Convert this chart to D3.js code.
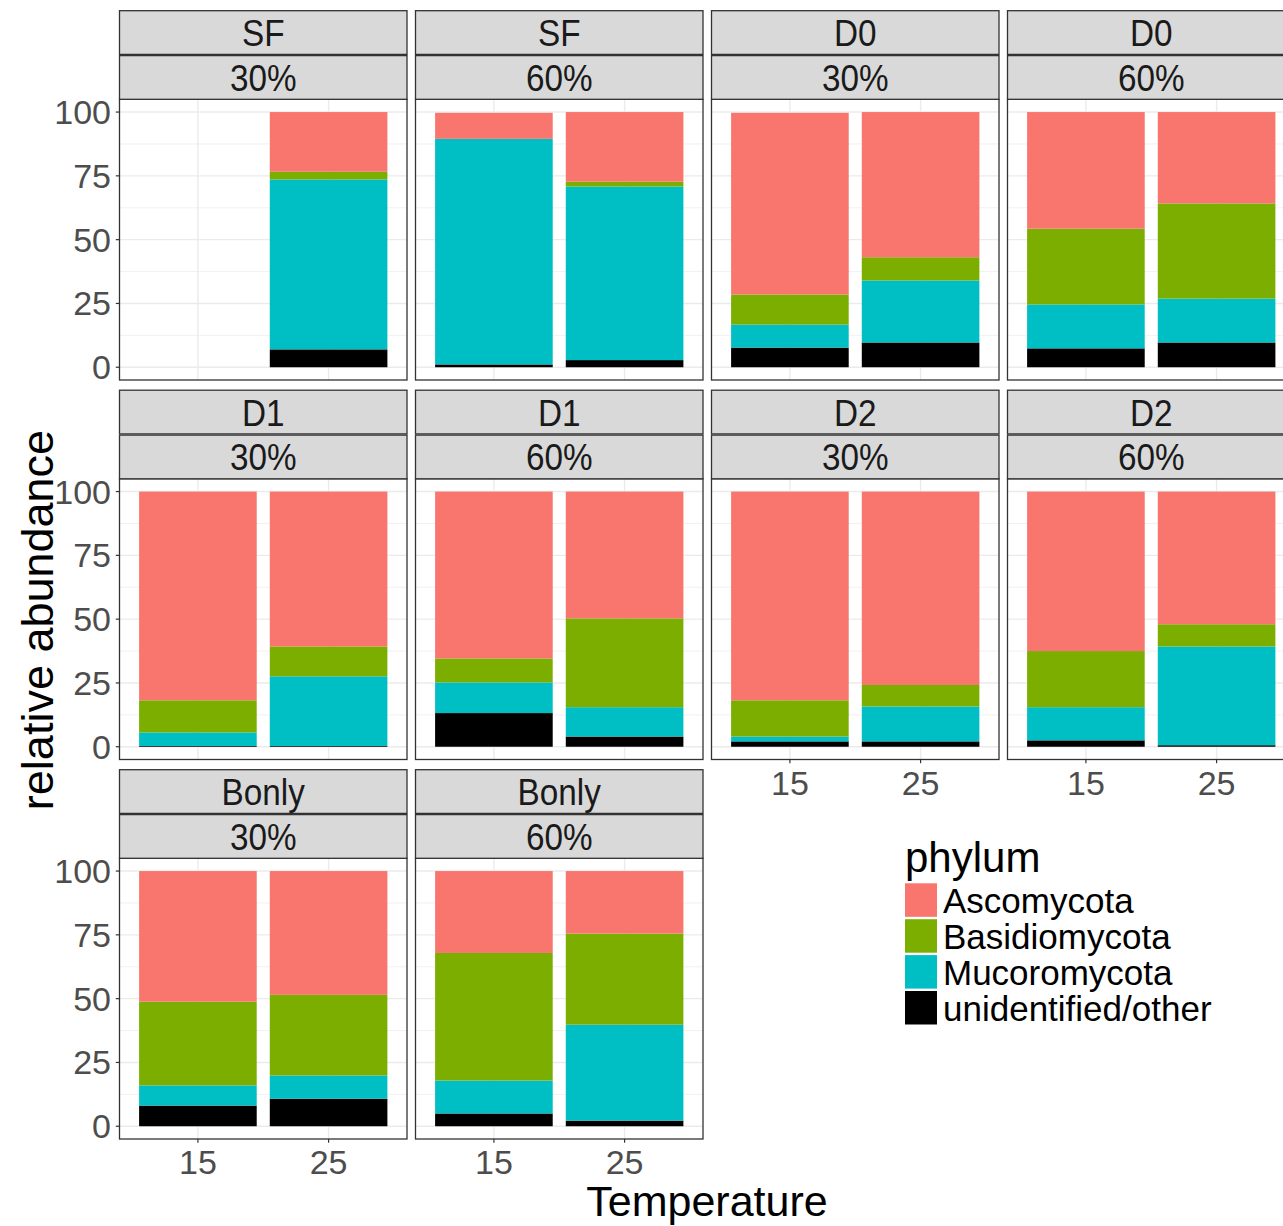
<!DOCTYPE html>
<html>
<head>
<meta charset="utf-8">
<script src="https://cdn.jsdelivr.net/npm/d3@7"></script>
<style>
  html, body { margin: 0; padding: 0; background: #fff; overflow: hidden; }
  svg { display: block; font-family: "Liberation Sans", Arial, Helvetica, sans-serif; }
</style>
</head>
<body>
<svg id="chart" width="1283" height="1226"></svg>
<script>
// Facet panels (treatment x moisture), in wrap order
const treatments = ["SF", "SF", "D0", "D0", "D1", "D1", "D2", "D2", "Bonly", "Bonly"];
const moistures  = ["30%", "60%", "30%", "60%", "30%", "60%", "30%", "60%", "30%", "60%"];
const temperatures = ["15", "25"];
const phyla = ["Ascomycota", "Basidiomycota", "Mucoromycota", "unidentified/other"];
const phylumColors = ["#F8766D", "#7CAE00", "#00BFC4", "#000000"];
const yTicks = [0, 25, 50, 75, 100];
const yMinor = [12.5, 37.5, 62.5, 87.5];

// Relative abundance (%) per panel, [15 °C, 25 °C]; null = no sample
const ascomycota = [
  [null, 23.4], [10.2, 27.3], [71.2, 56.9], [45.7, 35.8], [81.8, 60.7],
  [65.4, 49.7], [81.8, 75.8], [62.5, 52.0], [51.2, 48.5], [32.1, 24.5]
];
const basidiomycota = [
  [null, 3.0], [0.0, 1.9], [11.8, 9.1], [29.7, 37.3], [12.6, 11.7],
  [9.4, 34.8], [14.2, 8.4], [22.0, 8.7], [32.8, 31.6], [50.0, 35.7]
];
const mucoromycota = [
  [null, 66.6], [88.4, 68.0], [9.0, 24.3], [17.2, 17.2], [5.3, 27.3],
  [12.0, 11.5], [1.9, 13.7], [13.0, 38.7], [7.9, 9.1], [12.9, 37.6]
];
const unidentified = [
  [null, 7.0], [1.1, 2.8], [7.7, 9.7], [7.4, 9.7], [0.3, 0.3],
  [13.2, 4.0], [2.1, 2.1], [2.5, 0.6], [8.1, 10.8], [5.0, 2.2]
];
const seriesByPhylum = [ascomycota, basidiomycota, mucoromycota, unidentified];

// ---- layout ----
const svg = d3.select("#chart");
const ncol = 4;
const colLeft0 = 119.5, colPitch = 296, panelW = 287.5;
const rowTop0 = 10.7, rowPitch = 379.5;
const stripH = 44.3, panelH = 280.7;

const color = d3.scaleOrdinal().domain(phyla).range(phylumColors);

// stacking: unidentified at the bottom, Ascomycota on top
const stackKeys = phyla.slice().reverse();
const stack = d3.stack().keys(stackKeys);

const nPanels = treatments.length;
const nRows = Math.ceil(nPanels / ncol);

for (let p = 0; p < nPanels; p++) {
  const r = Math.floor(p / ncol), c = p % ncol;
  const left = colLeft0 + c * colPitch;
  const top = rowTop0 + r * rowPitch;
  const pTop = top + 2 * stripH;
  const pBottom = pTop + panelH;

  const x = d3.scaleBand().domain(temperatures).range([left, left + panelW])
    .paddingInner(0.1).paddingOuter(0.15);
  const y = d3.scaleLinear().domain([-5, 105]).range([pBottom, pTop]);

  const g = svg.append("g");

  // panel background + grid
  g.append("rect").attr("x", left).attr("y", pTop).attr("width", panelW).attr("height", panelH)
    .attr("fill", "#fff");
  g.selectAll(".minor").data(yMinor).join("line")
    .attr("x1", left).attr("x2", left + panelW)
    .attr("y1", d => y(d)).attr("y2", d => y(d))
    .attr("stroke", "#ebebeb").attr("stroke-width", 0.7);
  g.selectAll(".major").data(yTicks).join("line")
    .attr("x1", left).attr("x2", left + panelW)
    .attr("y1", d => y(d)).attr("y2", d => y(d))
    .attr("stroke", "#ebebeb").attr("stroke-width", 1.4);
  g.selectAll(".vmajor").data(temperatures).join("line")
    .attr("x1", d => x(d) + x.bandwidth() / 2).attr("x2", d => x(d) + x.bandwidth() / 2)
    .attr("y1", pTop).attr("y2", pBottom)
    .attr("stroke", "#ebebeb").attr("stroke-width", 1.4);

  // stacked bars
  const rows = temperatures.map((t, i) => {
    const o = { temp: t, present: seriesByPhylum[0][p][i] !== null };
    phyla.forEach((ph, k) => { o[ph] = seriesByPhylum[k][p][i] || 0; });
    return o;
  }).filter(d => d.present);
  const layers = stack(rows);
  layers.forEach(layer => {
    g.selectAll(null).data(layer).join("rect")
      .attr("x", d => x(d.data.temp))
      .attr("width", x.bandwidth())
      .attr("y", d => y(d[1]))
      .attr("height", d => Math.max(0, y(d[0]) - y(d[1])))
      .attr("fill", color(layer.key));
  });

  // panel border
  g.append("rect").attr("x", left).attr("y", pTop).attr("width", panelW).attr("height", panelH)
    .attr("fill", "none").attr("stroke", "#333333").attr("stroke-width", 1.3);

  // strips
  const labels = [treatments[p], moistures[p]];
  labels.forEach((lab, k) => {
    const sy = top + k * stripH + (k === 1 ? 0.6 : 0);
    const sh = stripH - 0.6;
    g.append("rect").attr("x", left).attr("y", sy).attr("width", panelW).attr("height", sh)
      .attr("fill", "#d9d9d9").attr("stroke", "#333333").attr("stroke-width", 1.3);
    g.append("text")
      .attr("transform", `translate(${left + panelW / 2},${sy + sh / 2 + 13.5}) scale(0.9,1)`)
      .attr("text-anchor", "middle").attr("font-size", 37).attr("fill", "#1a1a1a")
      .text(lab);
  });

  // y axis on first column
  if (c === 0) {
    const ya = g.append("g");
    ya.selectAll("line").data(yTicks).join("line")
      .attr("x1", left - 3.7).attr("x2", left)
      .attr("y1", d => y(d)).attr("y2", d => y(d))
      .attr("stroke", "#333333").attr("stroke-width", 1.2);
    ya.selectAll("text").data(yTicks).join("text")
      .attr("x", left - 8.5).attr("y", d => y(d) + 12)
      .attr("text-anchor", "end").attr("font-size", 34).attr("fill", "#4d4d4d")
      .text(d => d);
  }

  // x axis where no panel sits below
  const below = p + ncol;
  if (below >= nPanels) {
    const xa = g.append("g");
    xa.selectAll("line").data(temperatures).join("line")
      .attr("x1", d => x(d) + x.bandwidth() / 2).attr("x2", d => x(d) + x.bandwidth() / 2)
      .attr("y1", pBottom).attr("y2", pBottom + 3.7)
      .attr("stroke", "#333333").attr("stroke-width", 1.2);
    xa.selectAll("text").data(temperatures).join("text")
      .attr("x", d => x(d) + x.bandwidth() / 2).attr("y", pBottom + 35)
      .attr("text-anchor", "middle").attr("font-size", 34).attr("fill", "#4d4d4d")
      .text(d => d);
  }
}

// axis titles
svg.append("text").attr("x", 707).attr("y", 1216)
  .attr("text-anchor", "middle").attr("font-size", 43).attr("fill", "#000")
  .text("Temperature");
svg.append("text").attr("transform", "translate(53,620) rotate(-90)")
  .attr("text-anchor", "middle").attr("font-size", 45).attr("fill", "#000")
  .text("relative abundance");

// legend
const lg = svg.append("g").attr("transform", "translate(905,0)");
lg.append("text").attr("x", 0).attr("y", 872).attr("font-size", 42).attr("fill", "#000")
  .text("phylum");
lg.selectAll("rect").data(phyla).join("rect")
  .attr("x", 0).attr("y", (d, i) => 883.3 + i * 35.9)
  .attr("width", 32).attr("height", 33.5)
  .attr("fill", d => color(d));
lg.selectAll(".lab").data(phyla).join("text")
  .attr("x", 38).attr("y", (d, i) => 883.3 + i * 35.9 + 16.7 + 13)
  .attr("font-size", 35).attr("fill", "#000")
  .text(d => d);
</script>
</body>
</html>
